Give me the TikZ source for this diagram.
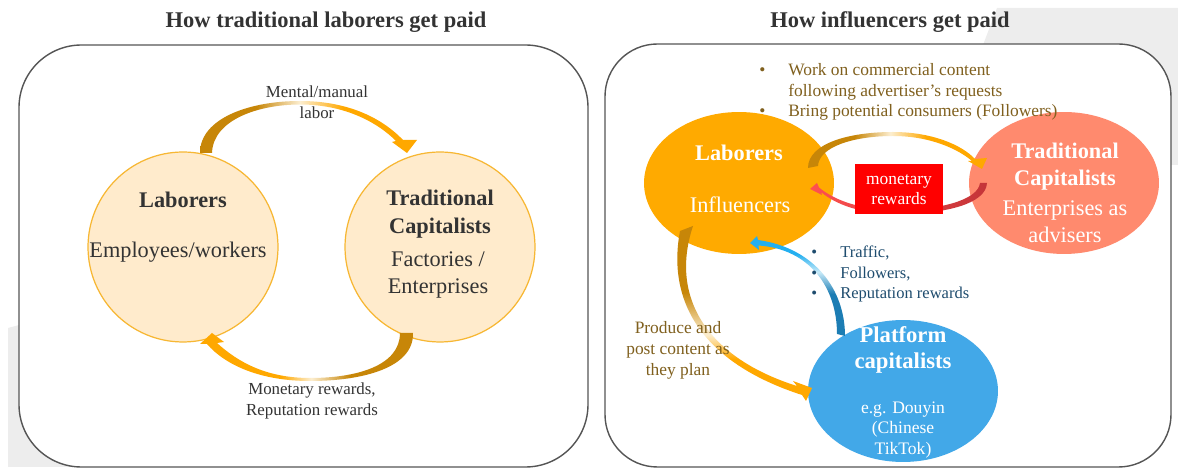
\documentclass[tikz,border=0pt]{standalone}
\usepackage{fontspec}
\setmainfont{Liberation Serif}
\usetikzlibrary{shapes.geometric}
\newcommand\setfs[2]{\fontsize{#1}{#2}\selectfont}

\definecolor{frame}{RGB}{85,85,85}
\definecolor{haze}{RGB}{237,237,237}
\definecolor{peach}{RGB}{255,235,204}
\definecolor{peachline}{RGB}{247,183,51}
\definecolor{ink}{RGB}{51,51,51}
\definecolor{gold}{RGB}{199,134,8}
\definecolor{amber}{RGB}{255,168,0}
\definecolor{paleamber}{RGB}{252,238,208}
\definecolor{laborfill}{RGB}{255,170,0}
\definecolor{salmon}{RGB}{255,138,110}
\definecolor{skyfill}{RGB}{66,168,232}
\definecolor{boxred}{RGB}{255,0,0}
\definecolor{brownink}{RGB}{128,96,30}
\definecolor{navyink}{RGB}{30,76,110}
\definecolor{redhead}{RGB}{255,80,80}
\definecolor{redtail}{RGB}{196,52,56}
\definecolor{cyanhead}{RGB}{35,175,240}
\definecolor{palecyan}{RGB}{200,234,248}
\definecolor{bluetail}{RGB}{28,125,180}

% gradients of the curved arrows (the path box spans 25bp..75bp)
\pgfdeclarehorizontalshading{goldtoamber}{100bp}{color(0bp)=(gold); color(38bp)=(gold);
  color(48bp)=(paleamber); color(58bp)=(amber); color(100bp)=(amber)}
\pgfdeclarehorizontalshading{ambertogold}{100bp}{color(0bp)=(amber); color(44bp)=(amber);
  color(51bp)=(paleamber); color(60bp)=(gold); color(100bp)=(gold)}
\pgfdeclareverticalshading{golddown}{100bp}{color(0bp)=(amber); color(37bp)=(amber);
  color(44bp)=(paleamber); color(56bp)=(gold); color(100bp)=(gold)}
\pgfdeclareverticalshading{blueup}{100bp}{color(0bp)=(bluetail); color(46bp)=(bluetail);
  color(57bp)=(palecyan); color(66bp)=(cyanhead); color(100bp)=(cyanhead)}

\begin{document}
\begin{tikzpicture}[x=0.02cm,y=-0.02cm,
  panel/.style={draw=frame,fill=white,line width=0.8pt},
  txt/.style={inner sep=0pt,align=center},
  roundpeach/.style={circle,fill=peach,draw=peachline,line width=0.7pt,minimum size=3.8cm,inner sep=0pt},
  blob/.style={ellipse,minimum width=3.8cm,minimum height=2.84cm,inner sep=0pt},
  titlefont/.style={font={\bfseries\setfs{12.8}{15}},text=ink},
  bigfont/.style={font={\setfs{12.7}{15.3}}},
  bigbold/.style={font={\bfseries\setfs{12.7}{15.6}}},
  smallfont/.style={font={\setfs{9.6}{11.9}}},
]
\useasboundingbox (0,0) rectangle (1178,469);

% faint grey patches behind the panels
\fill[haze] (8,328) -- (19,325) -- (120,325) -- (120,467) -- (8,467) -- cycle;
\fill[haze] (997,8) -- (1178,8) -- (1178,165) -- (1120,165) -- (1120,45) -- (983,45) -- cycle;

% ---------------- left panel ----------------
\node[titlefont,txt] (lefttitle) at (326,22) {How traditional laborers get paid};
\draw[panel,rounded corners=1.25cm] (19,45) rectangle (588,467);

\node[roundpeach] (lab) at (183,247) {};
\node[roundpeach] (cap) at (440,247) {};

% labour flows from workers to capitalists
\shade[shading=goldtoamber]
  (200,153) .. controls (200,118) and (250,101) .. (300,101)
  .. controls (345,101) and (380,116) .. (403,140)
  -- (417,140) -- (407,153) -- (392,142) -- (396,141)
  .. controls (376,121) and (343,104.5) .. (300,104.5)
  .. controls (258,104.5) and (213,120) .. (212,153) -- cycle;
% rewards flow back
\shade[shading=ambertogold]
  (413,333) .. controls (414,368) and (362,381) .. (310,381)
  .. controls (262,381) and (226,366) .. (207,344)
  -- (200,344) -- (212,333) -- (224,342) -- (217,343)
  .. controls (238,362) and (266,378) .. (310,378)
  .. controls (356,378) and (400,366) .. (400,333) -- cycle;

\node[txt,bigbold,text=ink] (labname) at (183,200) {Laborers};
\node[txt,bigfont,text=ink] (labkind) at (178,252) {Employees/workers};
\node[txt,bigbold,text=ink] (capname) at (440,214) {Traditional\\Capitalists};
\node[txt,bigfont,text=ink] (capkind) at (438,275) {Factories /\\Enterprises};
\node[txt,smallfont,text=ink] (laborlbl) at (317,102) {Mental/manual\\labor};
\node[txt,smallfont,text=ink] (rewardlbl) at (312,401) {Monetary rewards,\\Reputation rewards};

% ---------------- right panel ----------------
\node[titlefont,txt] (righttitle) at (890,22) {How influencers get paid};
\draw[panel,rounded corners=1.05cm] (605,44) rectangle (1171,467);

\node[blob,fill=laborfill] (infl) at (739,183) {};
\node[blob,fill=salmon] (adv) at (1064,183) {};
\node[blob,fill=skyfill] (plat) at (903,391) {};

% commercial work towards advertisers
\shade[shading=goldtoamber]
  (808,168) .. controls (808,143) and (850,132) .. (893,132)
  .. controls (932,132) and (962,145) .. (975,159)
  -- (987,158) -- (982,169) -- (968,161) -- (972,161)
  .. controls (958,149) and (930,136) .. (893,136)
  .. controls (853,136) and (819,147) .. (818,166) -- cycle;
% money back to influencers
\shade[left color=redhead,right color=redtail]
  (987,183) .. controls (986,204) and (945,214) .. (897,214)
  .. controls (860,214) and (835,204) .. (821,192)
  -- (822,195) -- (810,189) -- (817,183) -- (819,187.5)
  .. controls (834,200) and (860,210) .. (897,210)
  .. controls (940,210) and (978,200) .. (980,183) -- cycle;
% platform rewards
\shade[shading=blueup]
  (845,336) .. controls (845,290) and (815,248) .. (758,240)
  -- (757,236) -- (750,243) -- (759,250) -- (758.5,245.5)
  .. controls (810,249) and (837,288) .. (837,334) -- cycle;
% content posted on the platform
\shade[shading=golddown]
  (680,231) .. controls (667,300) and (700,362) .. (802,395)
  -- (806,401) -- (812,388) -- (793,381) -- (797,386)
  .. controls (708,358) and (669,298) .. (693,226) -- cycle;

\node[fill=boxred,minimum width=1.78cm,minimum height=1.02cm,inner sep=0pt] (money) at (899,189) {};
\node[txt,font={\setfs{9.9}{11.3}},text=white] (moneytxt) at (899,190) {monetary\\rewards};

\node[txt,bigbold,text=white] (inflname) at (739,153) {Laborers};
\node[txt,bigfont,text=white] (inflkind) at (740,205) {Influencers};
\node[txt,font={\bfseries\setfs{12.7}{15.3}},text=white] (advname) at (1065,167) {Traditional\\Capitalists};
\node[txt,bigfont,text=white] (advkind) at (1065,222) {Enterprises as\\advisers};
\node[txt,font={\bfseries\setfs{12.9}{14.7}},text=white] (platname) at (903,350) {Platform\\capitalists};
\node[txt,font={\setfs{10}{11.9}},text=white] (platkind) at (903,430) {e.g. Douyin\\(Chinese\\TikTok)};

\node[inner sep=0pt,align=left,anchor=west,font={\setfs{9.9}{11.6}},text=brownink] (worklist) at (759,92)
  {\makebox[0.58cm][l]{•}Work on commercial content\\
   \hspace*{0.58cm}following advertiser’s requests\\
   \makebox[0.58cm][l]{•}Bring potential consumers (Followers)};
\node[inner sep=0pt,align=left,anchor=west,font={\setfs{9.4}{11.9}},text=navyink] (gainlist) at (811,274)
  {\makebox[0.58cm][l]{•}Traffic,\\
   \makebox[0.58cm][l]{•}Followers,\\
   \makebox[0.58cm][l]{•}Reputation rewards};
\node[txt,font={\setfs{9.9}{11.9}},text=brownink] (postlbl) at (678,350) {Produce and\\post content as\\they plan};
\end{tikzpicture}
\end{document}
